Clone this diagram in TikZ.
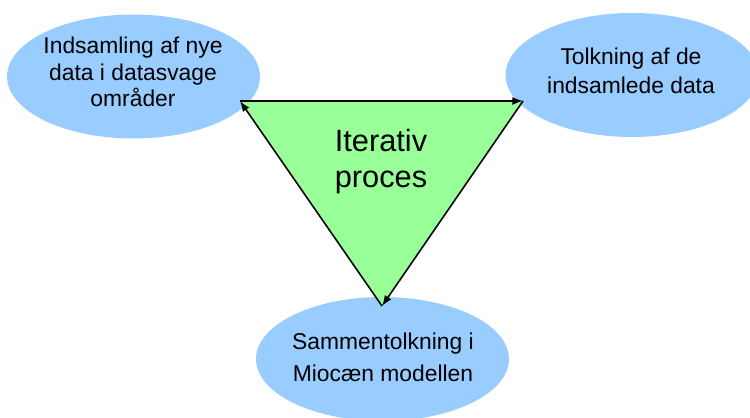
\documentclass[tikz,border=0pt]{standalone}
\usepackage{fontspec}
\setmainfont{Liberation Sans}
\usetikzlibrary{shapes.geometric,arrows.meta}
\definecolor{blobblue}{RGB}{153,204,255}
\definecolor{trigreen}{RGB}{153,255,153}
\begin{document}
\begin{tikzpicture}[x=0.02cm, y=-0.02cm,
        blob/.style={ellipse, fill=blobblue, inner sep=0pt, minimum width=5.06cm, minimum height=2.48cm},
        blobtext/.style={align=center, inner sep=0pt},
        cyclearrow/.style={black, line width=0.9pt, -{Latex[length=6pt, width=4.5pt]}}]
    \useasboundingbox (0,0) rectangle (750,417);
    % ellipses
    \node[blob] (collect) at (133.5,76.5) {};
    \node[blob] (interpret) at (632,75) {};
    \node[blob] (combine) at (382.5,359) {};
    \node[blobtext, font=\fontsize{13}{15.2}\selectfont] (collecttxt) at (133,72) {Indsamling af nye\\data i datasvage\\områder};
    \node[blobtext, font=\fontsize{13}{16.5}\selectfont] (interprettxt) at (631,71) {Tolkning af de\\indsamlede data};
    \node[blobtext, font=\fontsize{13}{18}\selectfont] (combinetxt) at (383,357.5) {Sammentolkning i\\Miocæn modellen};
    % triangle
    \coordinate (tl) at (240,101);
    \coordinate (tr) at (523,101);
    \coordinate (bt) at (382,306);
    \fill[trigreen] (tl) -- (tr) -- (bt) -- cycle;
    \draw[cyclearrow] (tl) -- (tr);
    \draw[cyclearrow] (tr) -- (bt);
    \draw[cyclearrow] (bt) -- (tl);
    \node[blobtext, font=\fontsize{17.5}{20.5}\selectfont] (iter) at (381,162) {Iterativ\\proces};
\end{tikzpicture}
\end{document}
